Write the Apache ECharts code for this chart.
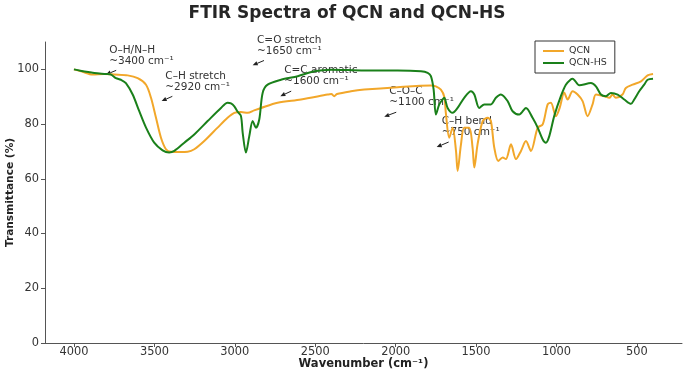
<!DOCTYPE html>
<html>
<head>
<meta charset="utf-8">
<title>FTIR Spectra</title>
<script src="https://cdn.jsdelivr.net/npm/echarts@6/dist/echarts.min.js"></script>
<style>
  html, body { margin: 0; padding: 0; background: #fff; }
  #chart { width: 694px; height: 381px; }
</style>
</head>
<body>
<div id="chart"></div>
<script>
// QCN spectrum (wavenumber cm-1, transmittance %)
var qcnWn = [4000, 3950, 3884, 3812, 3750, 3666, 3604, 3552, 3521, 3490, 3459, 3428, 3397, 3340, 3293, 3252, 3190, 3107, 3045, 3003, 2962, 2920, 2880, 2837, 2734, 2589, 2423, 2400, 2382, 2365, 2278, 2195, 1988, 1781, 1750, 1719, 1698, 1688, 1667, 1646, 1625, 1615, 1594, 1574, 1543, 1522, 1511, 1491, 1459, 1428, 1408, 1387, 1362, 1335, 1315, 1283, 1252, 1221, 1190, 1159, 1117, 1086, 1055, 1035, 1004, 980, 952, 931, 900, 869, 838, 807, 776, 755, 703, 672, 652, 631, 590, 569, 527, 475, 434, 400];
var qcnT  = [100, 99.2, 98.1, 98.3, 98.1, 97.8, 96.8, 94.4, 89.6, 82.3, 75, 70.8, 69.9, 69.8, 69.9, 70.8, 73.8, 78.7, 82.3, 84.1, 84.4, 84.1, 85, 85.9, 87.8, 89, 90.8, 91, 90.2, 91, 92, 92.6, 93.5, 94.1, 93.8, 92.6, 90, 84, 75, 78.7, 70.2, 62.9, 72.6, 78.7, 78.7, 71.4, 64.1, 72.6, 81.1, 82.3, 81.1, 71.4, 66.5, 67.8, 67.2, 72.6, 67.2, 70.2, 73.8, 70.2, 78.7, 79.9, 87.2, 87.8, 82.9, 86, 91.5, 89, 92, 90.8, 88.4, 82.9, 87.2, 90.8, 90.2, 89.6, 90.8, 89.6, 90.8, 93.2, 94.4, 95.6, 97.8, 98.3];

// QCN-HS spectrum
var hsWn = [4000, 3960, 3874, 3801, 3770, 3739, 3708, 3677, 3635, 3594, 3552, 3501, 3449, 3408, 3376, 3314, 3252, 3169, 3086, 3045, 3024, 3003, 2982, 2962, 2951, 2931, 2910, 2889, 2869, 2848, 2827, 2796, 2713, 2609, 2506, 2402, 2195, 1988, 1843, 1801, 1781, 1764, 1750, 1729, 1708, 1698, 1677, 1646, 1615, 1574, 1532, 1511, 1480, 1449, 1408, 1377, 1346, 1304, 1273, 1232, 1190, 1149, 1117, 1086, 1066, 1045, 1014, 973, 942, 910, 900, 858, 786, 755, 724, 693, 662, 620, 579, 537, 517, 486, 455, 434, 400];
var hsT  = [100, 99.5, 98.7, 98.3, 98.1, 96.8, 96.2, 95, 90.8, 84.7, 78.7, 73.2, 70.4, 69.6, 70.2, 73.2, 76.2, 81.1, 85.9, 87.8, 87.6, 86.5, 84.5, 83, 76.8, 69.6, 75.6, 81.1, 78.7, 81.7, 91.4, 94.4, 96.2, 97.5, 99.3, 99.9, 99.6, 99.6, 99.3, 98.7, 97.5, 92.6, 83.5, 87.2, 89, 89.6, 85.9, 84.1, 85.9, 89.6, 92, 90.8, 85.9, 87.2, 87.2, 89.6, 90.8, 88.4, 84.7, 83.5, 85.9, 82.3, 78.7, 74.4, 73.2, 75.6, 83, 90.2, 94.4, 96.4, 96.6, 94.2, 95, 93.8, 90.8, 90.2, 91.4, 90.8, 89, 87.4, 89, 92, 94.4, 96.2, 96.6];

// tick labels
var xTicks = [4000, 3500, 3000, 2500, 2000, 1500, 1000, 500];
var yTicks = [0, 20, 40, 60, 80, 100];

// peak annotations: text anchor (bottom-left) and arrow tip, in data units
var annoLabels = ['O–H/N–H\n~3400 cm⁻¹', 'C–H stretch\n~2920 cm⁻¹', 'C=O stretch\n~1650 cm⁻¹', 'C=C aromatic\n~1600 cm⁻¹', 'C–O–C\n~1100 cm⁻¹', 'C–H bend\n~750 cm⁻¹'];
var annoTextX = [3781, 3432, 2862, 2693, 2040, 1714];
var annoTextY = [101.1, 91.6, 104.7, 93.5, 85.8, 74.9];
var annoTipX = [3801, 3455, 2889, 2717, 2071, 1745];
var annoTipY = [98.1, 88.4, 101.5, 90.2, 82.7, 71.6];

function pairs(xs, ys) {
    return xs.map(function (x, i) { return [x, ys[i]]; });
}

var chart = echarts.init(document.getElementById('chart'));
var font = 'DejaVu Sans';

var option = {
    animation: false,
    backgroundColor: '#fff',
    title: {
        text: 'FTIR Spectra of QCN and QCN-HS',
        left: 'center',
        top: 0,
        textStyle: { fontFamily: font, fontSize: 17, fontWeight: 'bold', color: '#262626' }
    },
    legend: {
        data: ['QCN', 'QCN-HS'],
        orient: 'vertical',
        left: 535,
        top: 41,
        itemWidth: 21,
        itemHeight: 10,
        itemGap: 2,
        icon: 'path://M0,0 L21,0 L21,2 L0,2 Z',
        padding: [5, 8, 5, 8],
        borderColor: '#333',
        borderWidth: 1,
        borderRadius: 0,
        backgroundColor: '#fff',
        textStyle: { fontFamily: font, fontSize: 9.5, color: '#333' }
    },
    grid: { left: 45, right: 12, top: 42, bottom: 38, outerBoundsMode: 'none', containLabel: false },
    xAxis: {
        type: 'value',
        inverse: true,
        min: 220,
        max: 4180,
        name: 'Wavenumber (cm⁻¹)',
        nameLocation: 'middle',
        nameGap: 15,
        nameMoveOverlap: false,
        nameTextStyle: { fontFamily: font, fontSize: 11.5, fontWeight: 'bold', color: '#222' },
        axisLine: { lineStyle: { color: '#555', width: 1 } },
        axisTick: { show: true, length: 4, customValues: xTicks, lineStyle: { color: '#555' } },
        axisLabel: {
            customValues: xTicks,
            formatter: function (v) { return String(v); },
            fontFamily: font, fontSize: 11.4, color: '#333', margin: 4
        },
        splitLine: { show: false }
    },
    yAxis: {
        type: 'value',
        min: 0,
        max: 110,
        name: 'Transmittance (%)',
        nameLocation: 'middle',
        nameGap: 29,
        nameMoveOverlap: false,
        nameTextStyle: { fontFamily: font, fontSize: 10.6, fontWeight: 'bold', color: '#222' },
        axisLine: { show: true, lineStyle: { color: '#555', width: 1 } },
        axisTick: { show: true, length: 4, customValues: yTicks, lineStyle: { color: '#555' } },
        axisLabel: { customValues: yTicks, fontFamily: font, fontSize: 11.4, color: '#333', margin: 6 },
        splitLine: { show: false }
    },
    series: [
        {
            name: 'QCN',
            type: 'line',
            data: pairs(qcnWn, qcnT),
            symbol: 'none',
            smooth: 0.3,
            z: 3,
            lineStyle: { color: '#F2A72A', width: 2 },
            itemStyle: { color: '#F2A72A' }
        },
        {
            name: 'QCN-HS',
            type: 'line',
            data: pairs(hsWn, hsT),
            symbol: 'none',
            smooth: 0.3,
            z: 4,
            lineStyle: { color: '#1A801A', width: 2 },
            itemStyle: { color: '#1A801A' }
        },
        {
            name: 'annotations',
            type: 'custom',
            z: 1,
            clip: false,
            silent: true,
            encode: { x: 0, y: 1 },
            data: annoTextX.map(function (x, i) {
                return [x, annoTextY[i], i, annoTipX[i], annoTipY[i]];
            }),
            renderItem: function (params, api) {
                var i = api.value(2);
                var p = api.coord([api.value(0), api.value(1)]);
                var tip = api.coord([api.value(3), api.value(4)]);
                var tail = [p[0] + 7, p[1] + 4];
                var dx = tip[0] - tail[0], dy = tip[1] - tail[1];
                var len = Math.sqrt(dx * dx + dy * dy);
                var ux = dx / len, uy = dy / len;
                var hl = 5, hw = 2.2;
                var bx = tip[0] - ux * hl, by = tip[1] - uy * hl;
                return {
                    type: 'group',
                    children: [
                        {
                            type: 'text',
                            x: p[0],
                            y: p[1],
                            style: {
                                text: annoLabels[i],
                                align: 'left',
                                verticalAlign: 'bottom',
                                fontFamily: font,
                                fontSize: 10.5,
                                lineHeight: 11,
                                fill: '#333'
                            }
                        },
                        {
                            type: 'line',
                            shape: { x1: tail[0], y1: tail[1], x2: bx, y2: by },
                            style: { stroke: '#222', lineWidth: 1 }
                        },
                        {
                            type: 'polygon',
                            shape: { points: [[tip[0], tip[1]], [bx - uy * hw, by + ux * hw], [bx + uy * hw, by - ux * hw]] },
                            style: { fill: '#222' }
                        }
                    ]
                };
            }
        }
    ]
};

chart.setOption(option);
window.addEventListener('resize', function () {
    chart.resize();
});
</script>
</body>
</html>
